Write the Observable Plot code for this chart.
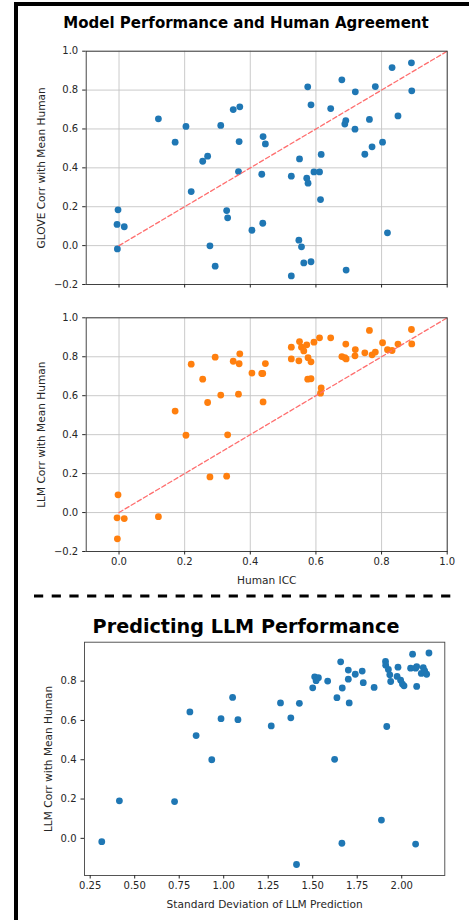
<!DOCTYPE html>
<html>
<head>
<meta charset="utf-8">
<script src="https://cdn.jsdelivr.net/npm/d3@7"></script>
<script src="https://cdn.jsdelivr.net/npm/@observablehq/plot@0.6"></script>
<style>
  html, body { margin: 0; padding: 0; background: #fff; }
  #page { position: relative; width: 469px; height: 920px; overflow: hidden; background: #fff; font-family: "DejaVu Sans", sans-serif; }
  .abs { position: absolute; }
  .title { position: absolute; font-weight: bold; color: #000; white-space: nowrap; transform: translate(-50%, -50%); }
  g[aria-label="x-axis label"] text, g[aria-label="y-axis label"] text { font-size: 10.6px; }
</style>
</head>
<body>
<div id="page">
  <div class="abs" style="left:14px; top:2px; width:455px; height:3.5px; background:#000;"></div>
  <div class="abs" style="left:14px; top:2px; width:3.5px; height:918px; background:#000;"></div>
  <div class="title" style="left:246px; top:23px; font-size:15px;">Model Performance and Human Agreement</div>
  <div class="title" style="left:246px; top:626px; font-size:19.2px;">Predicting LLM Performance</div>
  <svg class="abs" style="left:0; top:590px;" width="469" height="12">
    <line x1="34" x2="458" y1="6" y2="6" stroke="#000" stroke-width="2.8" stroke-dasharray="9.2,8.5"></line>
  </svg>
  <div id="p1" class="abs" style="left:0; top:0;"></div>
  <div id="p2" class="abs" style="left:0; top:300px;"></div>
  <div id="p3" class="abs" style="left:0; top:600px;"></div>
</div>
<script>
// Human ICC per item (shared x of panels 1 and 2)
const iccValues = [-0.003,-0.006,0.016,-0.005,0.12,0.171,0.204,0.22,0.255,0.27,0.277,0.293,0.31,0.328,0.331,0.348,0.368,0.366,0.364,0.405,0.435,0.439,0.446,0.438,0.525,0.525,0.55,0.548,0.556,0.563,0.585,0.572,0.576,0.575,0.585,0.594,0.611,0.616,0.614,0.645,0.679,0.691,0.688,0.692,0.72,0.719,0.749,0.763,0.771,0.781,0.803,0.818,0.832,0.85,0.891,0.892];
// GLOVE correlation with mean human
const gloveCorr = [0.184,0.109,0.097,-0.017,0.652,0.532,0.613,0.278,0.434,0.46,-0.001,-0.106,0.618,0.18,0.143,0.70,0.714,0.535,0.381,0.079,0.367,0.561,0.523,0.115,0.357,-0.156,0.446,0.028,-0.006,-0.089,-0.083,0.347,0.321,0.817,0.724,0.379,0.379,0.469,0.237,0.705,0.853,0.643,0.625,-0.126,0.791,0.599,0.47,0.649,0.508,0.818,0.532,0.066,0.916,0.667,0.94,0.796];
// LLM correlation with mean human
const llmCorr = [0.091,-0.027,-0.031,-0.135,-0.021,0.521,0.397,0.762,0.685,0.565,0.183,0.798,0.603,0.187,0.399,0.777,0.815,0.764,0.608,0.716,0.714,0.568,0.765,0.714,0.849,0.789,0.878,0.779,0.849,0.83,0.774,0.861,0.795,0.685,0.687,0.875,0.897,0.640,0.613,0.897,0.801,0.865,0.795,0.789,0.837,0.805,0.82,0.935,0.81,0.824,0.872,0.836,0.832,0.865,0.94,0.866];
// Panel 3: SD of LLM prediction vs LLM corr
const sdPred = [0.315,0.414,0.724,0.81,0.845,0.933,0.985,1.05,1.08,1.267,1.319,1.377,1.409,1.425,1.5,1.511,1.519,1.532,1.584,1.623,1.636,1.657,1.664,1.666,1.70,1.70,1.705,1.739,1.778,1.784,1.845,1.886,1.909,1.91,1.916,1.925,1.933,1.938,1.979,1.974,1.994,2.004,2.013,2.05,2.061,2.078,2.084,2.084,2.078,2.11,2.121,2.129,2.14,2.153];
const llmCorrSd = [-0.017,0.191,0.187,0.643,0.523,0.40,0.609,0.717,0.604,0.572,0.689,0.613,-0.133,0.687,0.766,0.822,0.802,0.817,0.80,0.402,0.716,0.898,-0.025,0.765,0.856,0.81,0.689,0.835,0.851,0.792,0.768,0.093,0.90,0.881,0.569,0.859,0.832,0.798,0.871,0.824,0.805,0.785,0.776,0.866,0.937,0.866,0.874,0.773,-0.029,0.839,0.869,0.852,0.835,0.943];
// Ticks and reference line
const iccTicks = [0.0,0.2,0.4,0.6,0.8,1.0];
const corrTicks = [-0.2,0.0,0.2,0.4,0.6,0.8,1.0];
const sdTicks = [0.25,0.5,0.75,1.0,1.25,1.5,1.75,2.0];
const sdCorrTicks = [0.0,0.2,0.4,0.6,0.8];
const identityLine = [0, 1];

const items = iccValues.map((v, i) => ({icc: v, glove: gloveCorr[i], llm: llmCorr[i]}));
const sdItems = sdPred.map((v, i) => ({sd: v, llm: llmCorrSd[i]}));

const BLUE = "#1f77b4", ORANGE = "#ff7f0e";
const style = {fontFamily: "DejaVu Sans", fontSize: "10px", color: "#262626", background: "transparent", overflow: "visible"};
const gridStyle = {stroke: "#c4c4c4", strokeOpacity: 1, strokeWidth: 0.9};
const f1 = d3.format(".1f"), f2 = d3.format(".2f");

function iccPanel(key, color, label, showX, h, mt, mb) {
  const marks = [
    Plot.gridX(iccTicks, gridStyle),
    Plot.gridY(corrTicks, gridStyle),
    Plot.dot(items, {x: "icc", y: key, r: 3.4, fill: color}),
    Plot.line(identityLine, {x: d => d, y: d => d, stroke: "#ff6e6e", strokeWidth: 1.3, strokeDasharray: "4.5,2.6"}),
    Plot.frame({stroke: "#333", strokeWidth: 0.9}),
    Plot.axisY({ticks: corrTicks, tickSize: 3.5, tickPadding: 4.5, tickFormat: f1, label, labelAnchor: "center", labelArrow: "none", labelOffset: 49})
  ];
  if (showX) {
    marks.push(Plot.axisX({ticks: iccTicks, tickSize: 3.5, tickPadding: 3, tickFormat: f1, label: "Human ICC", labelAnchor: "center", labelArrow: "none", labelOffset: 32}));
  } else {
    marks.push(Plot.axisX({ticks: iccTicks, tickSize: 3.5, tickFormat: () => "", label: null}));
  }
  return Plot.plot({
    width: 469, height: h, marginTop: mt, marginBottom: mb, marginLeft: 85.7, marginRight: 22.3,
    style,
    x: {domain: [-0.1, 1.0]},
    y: {domain: [-0.2, 1.0]},
    marks
  });
}

document.getElementById("p1").appendChild(iccPanel("glove", BLUE, "GLOVE Corr with Mean Human", false, 300, 50.7, 16));
document.getElementById("p2").appendChild(iccPanel("llm", ORANGE, "LLM Corr with Mean Human", true, 300, 17.3, 49));

document.getElementById("p3").appendChild(Plot.plot({
  width: 469, height: 320, marginTop: 41.7, marginBottom: 45, marginLeft: 84, marginRight: 24.7,
  style,
  x: {domain: [0.218, 2.242]},
  y: {domain: [-0.189, 0.998]},
  marks: [
    Plot.dot(sdItems, {x: "sd", y: "llm", r: 3.4, fill: BLUE}),
    Plot.frame({stroke: "#444", strokeWidth: 0.9}),
    Plot.axisY({ticks: sdCorrTicks, tickSize: 3.5, tickPadding: 4.5, tickFormat: f1, label: "LLM Corr with Mean Human", labelAnchor: "center", labelArrow: "none", labelOffset: 40}),
    Plot.axisX({ticks: sdTicks, tickSize: 3.5, tickPadding: 3, tickFormat: f2, label: "Standard Deviation of LLM Prediction", labelAnchor: "center", labelArrow: "none", labelOffset: 32})
  ]
}));
</script>
</body>
</html>
